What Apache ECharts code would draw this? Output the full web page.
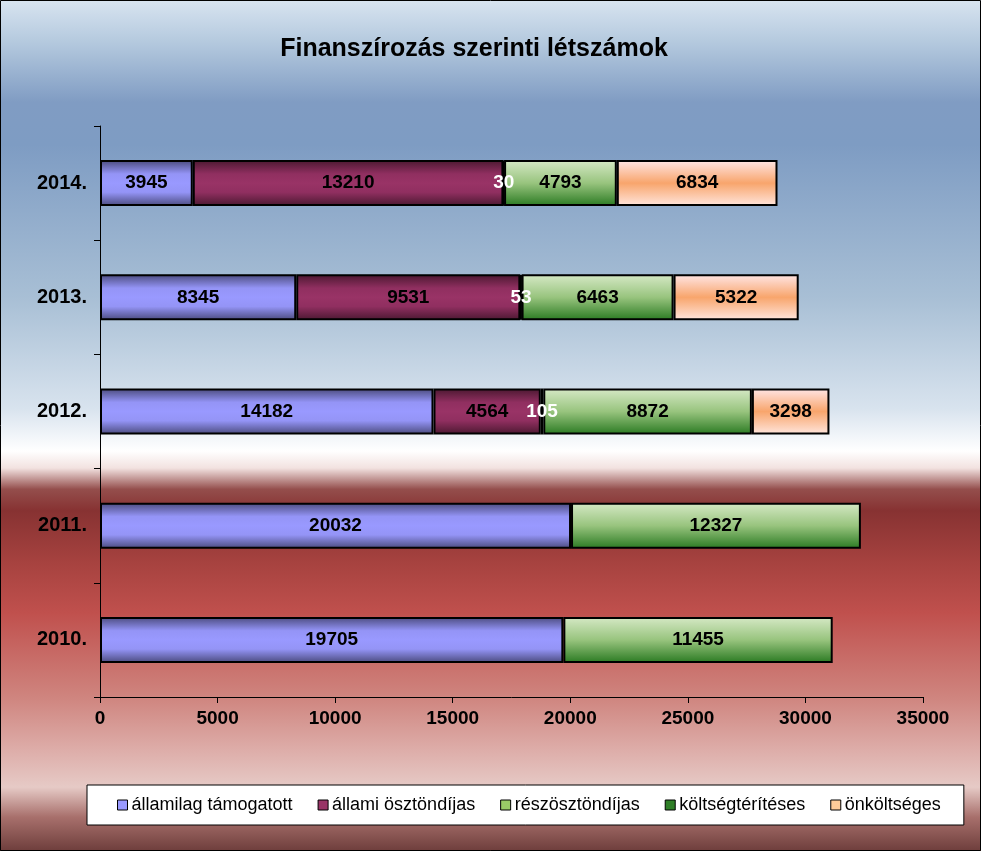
<!DOCTYPE html>
<html>
<head>
<meta charset="utf-8">
<script src="https://cdn.jsdelivr.net/npm/echarts@6/dist/echarts.min.js"></script>
<style>
html,body{margin:0;padding:0;}
#c{width:981px;height:851px;}
</style>
</head>
<body>
<div id="c"></div>
<script>
const categories = ['2010.', '2011.', '2012.', '2013.', '2014.'];
const seriesNames = ['államilag támogatott', 'állami ösztöndíjas', 'részösztöndíjas', 'költségtérítéses', 'önköltséges'];
const allamilagTamogatott = [19705, 20032, 14182, 8345, 3945];
const allamiOsztondijas = [null, null, 4564, 9531, 13210];
const reszosztondijas = [null, null, 105, 53, 30];
const koltsegtérites = [11455, 12327, 8872, 6463, 4793];
const onkoltseges = [null, null, 3298, 5322, 6834];
const xTicks = [0, 5000, 10000, 15000, 20000, 25000, 30000, 35000];

const FONT = 'Liberation Sans, Arial, sans-serif';
function vgrad(stops) {
  return { type: 'linear', x: 0, y: 0, x2: 0, y2: 1,
    colorStops: stops.map(s => ({ offset: s[0], color: s[1] })) };
}
const fills = [
  vgrad([[0, '#4a4a7c'], [0.3, '#9494f6'], [0.5, '#9999ff'], [0.7, '#9494f6'], [1, '#4a4a7c']]),
  vgrad([[0, '#4a1830'], [0.3, '#902f60'], [0.5, '#993366'], [0.7, '#902f60'], [1, '#4a1830']]),
  vgrad([[0, '#d8ecc4'], [1, '#66aa44']]),
  vgrad([[0, '#d6e9c6'], [0.5, '#98c47e'], [1, '#2a7a22']]),
  vgrad([[0, '#ffe6e6'], [0.5, '#f8a56c'], [1, '#ffe6de']])
];
const legendColors = ['#9999ff', '#993366', '#99cc66', '#2f7f27', '#ffcc99'];
const datasets = [allamilagTamogatott, allamiOsztondijas, reszosztondijas, koltsegtérites, onkoltseges];

const series = datasets.map((d, i) => ({
  name: seriesNames[i],
  type: 'bar',
  stack: 'total',
  barWidth: 46,
  data: d,
  itemStyle: { color: fills[i], borderColor: '#000', borderWidth: 2 },
  label: {
    show: true,
    position: 'inside',
    color: i === 2 ? '#ffffff' : '#000000',
    fontFamily: FONT,
    fontWeight: 'bold',
    fontSize: 19
  },
  emphasis: { disabled: true }
}));

const chart = echarts.init(document.getElementById('c'));
chart.setOption({
  animation: false,
  backgroundColor: vgrad([
    [0.0, '#d8e4f0'], [0.05, '#b4c9de'], [0.12, '#809cc3'], [0.17, '#7e9cc3'],
    [0.35, '#a8bfd5'], [0.48, '#d8e3ee'], [0.53, '#ffffff'], [0.55, '#f2e2e0'],
    [0.575, '#944e4c'], [0.6, '#873232'], [0.66, '#a6423f'], [0.72, '#c0504d'],
    [0.82, '#cf857f'], [0.88, '#ddaca8'], [0.925, '#e6cac6'], [0.96, '#a8706c'], [1.0, '#6e3e3c']
  ]),
  title: {
    text: 'Finanszírozás szerinti létszámok',
    left: 469, top: 32, textAlign: 'center',
    textStyle: { fontFamily: FONT, fontWeight: 'bold', fontSize: 25, color: '#000' }
  },
  grid: { left: 100, right: 58, top: 126, bottom: 154, containLabel: false },
  xAxis: {
    type: 'value', min: 0, max: 35000, interval: 5000,
    axisLine: { show: true, lineStyle: { color: '#000', width: 1 } },
    axisTick: { show: true, length: 6, lineStyle: { color: '#000' } },
    splitLine: { show: false },
    axisLabel: {
      margin: 12, color: '#000', fontFamily: FONT, fontWeight: 'bold', fontSize: 19,
      formatter: v => (xTicks.indexOf(v) >= 0 ? String(v) : '')
    }
  },
  yAxis: {
    type: 'category', data: categories,
    axisLine: { show: true, lineStyle: { color: '#000', width: 1 } },
    axisTick: { show: true, length: 6, lineStyle: { color: '#000' } },
    axisLabel: { margin: 13, color: '#000', fontFamily: FONT, fontWeight: 'bold', fontSize: 20 }
  },
  legend: {
    left: 87, top: 785,
    padding: [11, 23, 11, 30],
    itemGap: 25,
    itemWidth: 10, itemHeight: 10,
    icon: 'rect',
    backgroundColor: '#ffffff',
    borderColor: '#000', borderWidth: 1,
    selectedMode: false,
    textStyle: { fontFamily: FONT, fontSize: 18, color: '#000', padding: [0, 0, 0, -1] },
    data: seriesNames.map((n, i) => ({
      name: n,
      itemStyle: { color: legendColors[i], borderColor: '#000', borderWidth: 1 }
    }))
  },
  graphic: [{
    type: 'rect', silent: true, z: 100,
    shape: { x: 0.5, y: 0.5, width: 980, height: 850 },
    style: { fill: 'none', stroke: '#000', lineWidth: 1 }
  }],
  series: series
});
</script>
</body>
</html>
